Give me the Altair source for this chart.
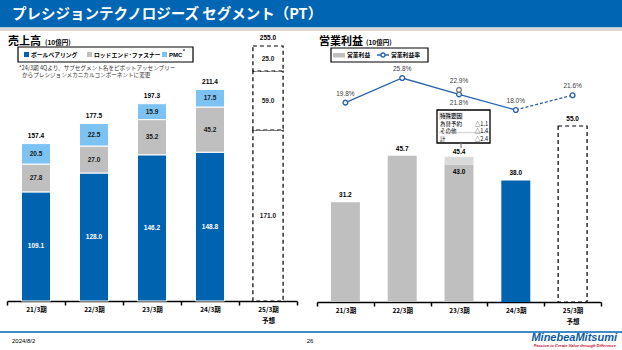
import altair as alt
import pandas as pd

# ---------------- data ----------------
periods = ["21/3期", "22/3期", "23/3期", "24/3期", "25/3期"]
forecast_label = "予想"
ball_bearing = [109.1, 128.0, 146.2, 148.8, 171.0]
rod_end = [27.8, 27.0, 35.2, 45.2, 59.0]
pmc = [20.5, 22.5, 15.9, 17.5, 25.0]
sales_total = [157.4, 177.5, 197.3, 211.4, 255.0]

op_income = [31.2, 45.7, 43.0, 38.0, 55.0]
op_income_23_excl = 45.4      # 23/3 before special factors
op_margin = [19.8, 25.8, 21.8, 18.0, 21.6]
op_margin_23_excl = 22.9

special_title = "特殊要因"
special_items = ["為替予約", "その他", "計"]
special_values = ["△1.1", "△1.4", "△2.4"]

seg_names = ["ボールベアリング", "ロッドエンド･ファスナー", "PMC"]

# ---------------- style ----------------
JP = "Noto Sans CJK JP"
NUM = "Liberation Sans"
BLUE = "#0063AF"
LBLUE = "#7CC3F3"
GRAY = "#BFBFBF"
BANNER = "#0066B3"
LINE = "#2A62AE"

W, H = 622, 350
one = pd.DataFrame({"a": [0]})


def txt(s, x, y, size, color="black", weight="normal", align="left", font=JP, style="normal"):
    return alt.Chart(one).mark_text(
        text=s, fontSize=size, color=color, fontWeight=weight, align=align,
        baseline="middle", font=font, fontStyle=style
    ).encode(x=alt.value(x), y=alt.value(y))


def rect(x0, x1, y0, y1, fill, stroke=None, sw=1.0, fo=1.0):
    kw = dict(fill=fill, fillOpacity=fo)
    if stroke:
        kw.update(stroke=stroke, strokeWidth=sw)
    return alt.Chart(one).mark_rect(**kw).encode(
        x=alt.value(x0), x2=alt.value(x1), y=alt.value(y0), y2=alt.value(y1))


def hline(x0, x1, y, color, sw=1.0, dash=None):
    kw = dict(color=color, strokeWidth=sw)
    if dash:
        kw["strokeDash"] = dash
    return alt.Chart(one).mark_rule(**kw).encode(
        x=alt.value(x0), x2=alt.value(x1), y=alt.value(y))


def vline(x, y0, y1, color, sw=1.0):
    return alt.Chart(one).mark_rule(color=color, strokeWidth=sw).encode(
        x=alt.value(x), y=alt.value(y0), y2=alt.value(y1))


label_expr = f"datum.value == '{periods[-1]}' ? ['{periods[-1]}', '{forecast_label}'] : datum.value"


def make_axis(offset):
    return alt.Axis(
        title=None, orient="bottom", offset=offset, tickBand="extent",
        domainColor="black", domainWidth=1.5, tickColor="black", tickWidth=1.5,
        tickSize=4, labelFont=JP, labelFontSize=6.5, labelFontWeight="bold",
        labelColor="black", labelPadding=1, labelExpr=label_expr,
        labelLineHeight=11, grid=False, labelAngle=0,
    )


# ---------------- left panel: sales ----------------
rows = []
for i, p in enumerate(periods):
    base = 0.0
    for seg, vals, col, tcol in [
        (seg_names[0], ball_bearing, BLUE, "white"),
        (seg_names[1], rod_end, GRAY, "#1a1a1a"),
        (seg_names[2], pmc, LBLUE, "#1a1a1a"),
    ]:
        v = vals[i]
        fc = i == len(periods) - 1
        rows.append(dict(period=p, seg=seg, y0=base, y1=base + v, mid=base + v / 2,
                         label=f"{v:.1f}", color=col, tcol=("#1a1a1a" if fc else tcol), fc=fc))
        base += v
df_s = pd.DataFrame(rows)
df_tot = pd.DataFrame({"period": periods, "total": sales_total,
                       "label": [f"{v:.1f}" for v in sales_total]})

xsL = alt.Scale(type="band", domain=periods, range=[7, 297], paddingInner=0, paddingOuter=0)
ysL = alt.Scale(domain=[0, 300], range=[301, 1], nice=False, zero=False)
xL = alt.X("period:N", scale=xsL, axis=None)

bars_L = alt.Chart(df_s[~df_s.fc]).mark_bar(
    width=alt.RelativeBandSize(0.5), stroke="white", strokeWidth=1
).encode(
    x=alt.X("period:N", scale=xsL, axis=make_axis(-(H - 301))),
    y=alt.Y("y1:Q", scale=ysL, axis=None), y2="y0:Q",
    color=alt.Color("color:N", scale=None),
)
fc_L = alt.Chart(df_s[df_s.fc]).mark_bar(
    width=alt.RelativeBandSize(0.52), fill="white", stroke="black",
    strokeWidth=1.2, strokeDash=[4, 3]
).encode(x=xL, y=alt.Y("y1:Q", scale=ysL, axis=None), y2="y0:Q")
lab_L = alt.Chart(df_s).mark_text(font=NUM, fontSize=6.5, fontWeight="bold").encode(
    x=xL, y=alt.Y("mid:Q", scale=ysL, axis=None), text="label:N",
    color=alt.Color("tcol:N", scale=None))
tot_L = alt.Chart(df_tot).mark_text(font=NUM, fontSize=6.5, fontWeight="bold", dy=-8,
                                    color="black").encode(
    x=xL, y=alt.Y("total:Q", scale=ysL, axis=None), text="label:N")

# ---------------- right panel: operating income ----------------
op_colors = [GRAY, GRAY, GRAY, BLUE]
df_op = pd.DataFrame({"period": periods[:4], "v": op_income[:4], "color": op_colors})
df_fc = pd.DataFrame({"period": [periods[4]], "v": [op_income[4]]})
df_h = pd.DataFrame({"period": [periods[2]], "y0": [op_income[2]], "y1": [op_income_23_excl]})
above_p = [periods[0], periods[1], periods[3], periods[4]]
above_v = [op_income[0], op_income[1], op_income[3], op_income[4]]
df_oplab = pd.DataFrame({"period": above_p, "v": above_v, "label": [f"{v:.1f}" for v in above_v]})
df_oplab_h = pd.DataFrame({"period": [periods[2]], "v": [op_income_23_excl],
                           "label": [f"{op_income_23_excl:.1f}"]})
df_oplab_in = pd.DataFrame({"period": [periods[2]], "v": [op_income[2]], "label": [f"{op_income[2]:.1f}"]})

xsR = alt.Scale(type="band", domain=periods, range=[317, 601], paddingInner=0, paddingOuter=0)
ysR = alt.Scale(domain=[0, 60], range=[302, 110], nice=False, zero=False)
ysP = alt.Scale(domain=[0, 30], range=[183.8, 60.8], nice=False, zero=False)
xR = alt.X("period:N", scale=xsR, axis=None)

bars_R = alt.Chart(df_op).mark_bar(width=alt.RelativeBandSize(0.51)).encode(
    x=alt.X("period:N", scale=xsR, axis=make_axis(-(H - 302))),
    y=alt.Y("v:Q", scale=ysR, axis=None),
    color=alt.Color("color:N", scale=None))
hatch_R = alt.Chart(df_h).mark_bar(width=alt.RelativeBandSize(0.51), color="#DADADA").encode(
    x=xR, y=alt.Y("y1:Q", scale=ysR, axis=None), y2="y0:Q")
fc_R = alt.Chart(df_fc).mark_bar(
    width=alt.RelativeBandSize(0.51), fill="white", stroke="black",
    strokeWidth=1.2, strokeDash=[4, 3]
).encode(x=xR, y=alt.Y("v:Q", scale=ysR, axis=None))
lab_R = alt.Chart(df_oplab).mark_text(font=NUM, fontSize=6.5, fontWeight="bold", dy=-7,
                                      color="black").encode(
    x=xR, y=alt.Y("v:Q", scale=ysR, axis=None), text="label:N")
lab_R_h = alt.Chart(df_oplab_h).mark_text(font=NUM, fontSize=6.5, fontWeight="bold", dy=-4.5,
                                          color="black").encode(
    x=xR, y=alt.Y("v:Q", scale=ysR, axis=None), text="label:N")
lab_R_in = alt.Chart(df_oplab_in).mark_text(font=NUM, fontSize=6.5, fontWeight="bold", dy=8,
                                            color="black").encode(
    x=xR, y=alt.Y("v:Q", scale=ysR, axis=None), text="label:N")

df_m = pd.DataFrame({"period": periods, "m": op_margin,
                     "label": [f"{v:.1f}%" for v in op_margin]})
line_solid = alt.Chart(df_m.iloc[:4]).mark_line(color=LINE, strokeWidth=1.3).encode(
    x=xR, y=alt.Y("m:Q", scale=ysP, axis=None))
line_dash = alt.Chart(df_m.iloc[3:]).mark_line(color=LINE, strokeWidth=1.3, strokeDash=[3, 2]).encode(
    x=xR, y=alt.Y("m:Q", scale=ysP, axis=None))
pts = alt.Chart(df_m).mark_point(shape="circle", filled=True, fill="white", stroke=LINE,
                                 strokeWidth=1.4, size=22, opacity=1).encode(
    x=xR, y=alt.Y("m:Q", scale=ysP, axis=None))
df_g = pd.DataFrame({"period": [periods[2]], "m": [op_margin_23_excl],
                     "label": [f"{op_margin_23_excl:.1f}%"]})
pt_g = alt.Chart(df_g).mark_point(shape="circle", filled=True, fill="white", stroke="#7F7F7F",
                                  strokeWidth=1.4, size=22, opacity=1).encode(
    x=xR, y=alt.Y("m:Q", scale=ysP, axis=None))
mlab_above = alt.Chart(pd.concat([df_m.drop(index=2), df_g])).mark_text(
    font=NUM, fontSize=6.5, dy=-9, color="#404040").encode(
    x=xR, y=alt.Y("m:Q", scale=ysP, axis=None), text="label:N")
mlab_below = alt.Chart(df_m.iloc[[2]]).mark_text(
    font=NUM, fontSize=6.5, dy=9, color="#404040").encode(
    x=xR, y=alt.Y("m:Q", scale=ysP, axis=None), text="label:N")

# ---------------- decorations ----------------
deco = [
    rect(0, W, 0, 27.5, BANNER),
    rect(0, W, 27.5, 31, "#D9D9D9"),
    txt("プレシジョンテクノロジーズ セグメント（PT）", 12, 14.5, 14.5, color="white", weight="bold"),
    # left headings / legend
    txt("売上高", 8, 42, 11, weight="bold"),
    txt("(10億円)", 45, 42.5, 6.5, weight="bold"),
    rect(18, 193, 47, 62, "white", stroke="black", sw=1.2, fo=0),
    rect(24, 29, 52, 57, BLUE),
    txt(seg_names[0], 31, 54.5, 5.8, weight="bold"),
    rect(87, 92, 52, 57, GRAY),
    txt(seg_names[1], 94, 54.5, 5.8, weight="bold"),
    rect(162, 167, 52, 57, LBLUE),
    txt(seg_names[2], 169, 54.5, 6, weight="bold", font=NUM),
    txt("*", 183, 51, 5, weight="bold", font=NUM),
    txt("*24/3期 4Qより、サブセグメント名をピボットアッセンブリー", 19, 67.5, 5.6, color="#333333"),
    txt("からプレシジョンメカニカルコンポーネントに変更", 22, 74.5, 5.6, color="#333333"),
    # right headings / legend
    txt("営業利益", 319, 42, 11, weight="bold"),
    txt("(10億円)", 366, 42.5, 6.5, weight="bold"),
    rect(331, 428, 48, 62, "white", stroke="black", sw=1.2, fo=0),
    rect(333, 345, 53, 57.5, GRAY),
    txt("営業利益", 347, 55, 5.8, weight="bold"),
    hline(377, 389, 55, LINE, sw=1.5),
    txt("営業利益率", 391, 55, 5.8, weight="bold"),
    # annotation box
    rect(437, 490, 110, 143, "white", stroke="black", sw=1.3),
    rect(439, 463, 112.5, 119.5, "#D9D9D9"),
    hline(439, 489, 132.5, "#D9D9D9", sw=1.5),
    txt(special_title, 440, 116, 5.5),
    txt(special_items[0], 440, 124, 5.5),
    txt(special_values[0], 488, 124, 5.5, align="right"),
    txt(special_items[1], 440, 131, 5.5),
    txt(special_values[1], 488, 131, 5.5, align="right"),
    txt(special_items[2], 440, 139, 5.5),
    txt(special_values[2], 488, 139, 5.5, align="right"),
    vline(461, 143, 148, "#7F7F7F", sw=1.2),
    # footer
    hline(0, W, 332, BANNER, sw=1.5),
    txt("2024/8/2", 12, 341, 6, font=NUM),
    txt("26", 310, 341, 6, font=NUM, align="center"),
    txt("MinebeaMitsumi", 617, 337.5, 11, color="#0A5CA8", weight="bold", align="right",
        font=NUM, style="italic"),
    txt("Passion to Create Value through Difference", 616, 345.5, 4, color="#C8102E",
        weight="bold", align="right", font=NUM, style="italic"),
]

legend_pt = alt.Chart(one).mark_point(shape="circle", filled=True, fill="white", stroke=LINE,
                                      strokeWidth=1.3, size=16, opacity=1).encode(
    x=alt.value(383), y=alt.value(55))

chart = alt.layer(
    *deco[:2],
    bars_L, fc_L, lab_L, tot_L,
    bars_R, hatch_R, fc_R, lab_R, lab_R_h, lab_R_in,
    line_solid, line_dash, pts, pt_g, mlab_above, mlab_below,
    *deco[2:], legend_pt,
).resolve_scale(x="independent", y="independent").properties(
    width=W, height=H, padding=0,
    autosize=alt.AutoSizeParams(type="none"),
).configure_view(stroke=None)

chart.save("out.html", embed_options={"renderer": "svg", "actions": False})
